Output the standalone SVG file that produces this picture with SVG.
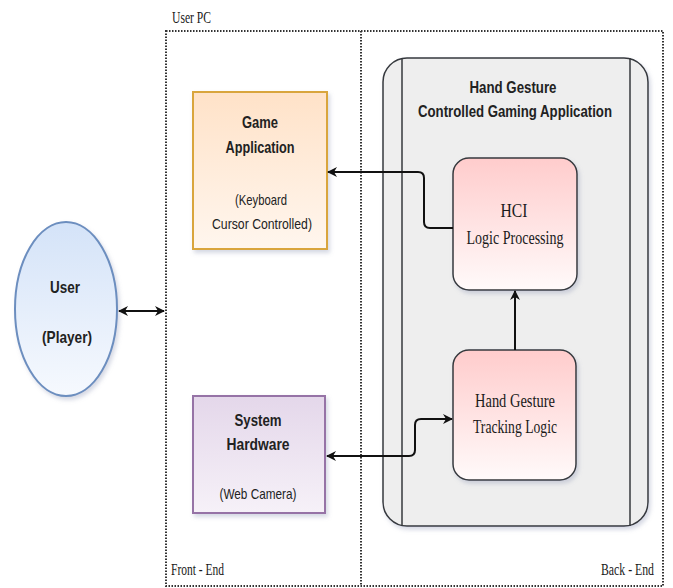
<svg xmlns="http://www.w3.org/2000/svg" width="673" height="588" viewBox="0 0 673 588">
<style>
.sans{font-family:"Liberation Sans",Arial,sans-serif;fill:#222;text-anchor:middle}
.b{font-weight:bold}
.serif{font-family:"Liberation Serif","Times New Roman",serif;fill:#1a1a1a;text-anchor:middle}
.conn{fill:none;stroke:#111;stroke-width:2}
.dot{fill:none;stroke:#333;stroke-width:2;stroke-dasharray:1.5 1.5}
</style>
<defs>
<linearGradient id="gOrange" x1="0" y1="0" x2="0" y2="1"><stop offset="0" stop-color="#FFE2C8"/><stop offset="1" stop-color="#FFF6EE"/></linearGradient>
<linearGradient id="gPurple" x1="0" y1="0" x2="0" y2="1"><stop offset="0" stop-color="#E4D7EA"/><stop offset="1" stop-color="#F6F1F8"/></linearGradient>
<linearGradient id="gBlue" x1="0" y1="0" x2="0" y2="1"><stop offset="0" stop-color="#D4E3F8"/><stop offset="1" stop-color="#F6F9FE"/></linearGradient>
<linearGradient id="gPink" x1="0" y1="0" x2="0" y2="1"><stop offset="0" stop-color="#FFCCCC"/><stop offset="1" stop-color="#FFFAFA"/></linearGradient>
<filter id="sh" x="-10%" y="-10%" width="130%" height="130%"><feDropShadow dx="2" dy="3" stdDeviation="2" flood-color="#8890b0" flood-opacity="0.35"/></filter>
<marker id="arr" viewBox="0 0 10 10" refX="9" refY="5" markerWidth="10" markerHeight="10" markerUnits="userSpaceOnUse" orient="auto-start-reverse"><path d="M0,0 L10,5 L0,10 L3,5 z" fill="#111"/></marker>
</defs>
<rect width="673" height="588" fill="#fff"/>

<g id="userpc">
<rect x="166" y="31" width="497" height="555" class="dot"/>
<line x1="361" y1="31" x2="361" y2="586" class="dot"/>
<text x="172" y="23" class="serif" style="text-anchor:start" font-size="16" textLength="39" lengthAdjust="spacingAndGlyphs">User PC</text>
<text x="171" y="575" class="serif" style="text-anchor:start" font-size="16" textLength="53" lengthAdjust="spacingAndGlyphs">Front - End</text>
<text x="601" y="575" class="serif" style="text-anchor:start" font-size="16" textLength="53" lengthAdjust="spacingAndGlyphs">Back - End</text>
</g>

<g id="app">
<rect x="383" y="58" width="265" height="468" rx="24" fill="#EEEEEE" stroke="#36393d" stroke-width="1.5" filter="url(#sh)"/>
<line x1="402" y1="58" x2="402" y2="526" stroke="#36393d" stroke-width="1.5"/>
<line x1="630" y1="58" x2="630" y2="526" stroke="#36393d" stroke-width="1.5"/>
<text x="513" y="93" class="sans b" font-size="17" textLength="87" lengthAdjust="spacingAndGlyphs">Hand Gesture</text>
<text x="515" y="117" class="sans b" font-size="17" textLength="194" lengthAdjust="spacingAndGlyphs">Controlled Gaming Application</text>
</g>

<g id="game">
<rect x="193" y="92" width="134" height="157" fill="url(#gOrange)" stroke="#D9A53C" stroke-width="2" filter="url(#sh)"/>
<text x="260" y="128" class="sans b" font-size="17" textLength="36" lengthAdjust="spacingAndGlyphs">Game</text>
<text x="260" y="153" class="sans b" font-size="17" textLength="69" lengthAdjust="spacingAndGlyphs">Application</text>
<text x="261" y="205" class="sans" font-size="15" fill="#333" textLength="52" lengthAdjust="spacingAndGlyphs">(Keyboard</text>
<text x="262" y="229" class="sans" font-size="15" fill="#333" textLength="100" lengthAdjust="spacingAndGlyphs">Cursor Controlled)</text>
</g>

<g id="user">
<ellipse cx="66" cy="309" rx="51" ry="87" fill="url(#gBlue)" stroke="#6C8EBF" stroke-width="2" filter="url(#sh)"/>
<text x="65" y="293" class="sans b" font-size="17" textLength="30" lengthAdjust="spacingAndGlyphs">User</text>
<text x="67" y="343" class="sans b" font-size="17" textLength="50" lengthAdjust="spacingAndGlyphs">(Player)</text>
</g>

<g id="hardware">
<rect x="193" y="396" width="132" height="117" fill="url(#gPurple)" stroke="#9673A6" stroke-width="2" filter="url(#sh)"/>
<text x="258" y="426" class="sans b" font-size="17" textLength="47" lengthAdjust="spacingAndGlyphs">System</text>
<text x="258" y="450" class="sans b" font-size="17" textLength="63" lengthAdjust="spacingAndGlyphs">Hardware</text>
<text x="258" y="499" class="sans" font-size="15" fill="#333" textLength="77" lengthAdjust="spacingAndGlyphs">(Web Camera)</text>
</g>

<g id="hci">
<rect x="453" y="158" width="124" height="132" rx="16" fill="url(#gPink)" stroke="#36393d" stroke-width="1.5" filter="url(#sh)"/>
<text x="514" y="217" class="serif" font-size="19" textLength="27" lengthAdjust="spacingAndGlyphs">HCI</text>
<text x="515" y="244" class="serif" font-size="19" textLength="97" lengthAdjust="spacingAndGlyphs">Logic Processing</text>
</g>

<g id="tracking">
<rect x="453" y="350" width="123" height="130" rx="16" fill="url(#gPink)" stroke="#36393d" stroke-width="1.5" filter="url(#sh)"/>
<text x="515" y="407" class="serif" font-size="19" textLength="80" lengthAdjust="spacingAndGlyphs">Hand Gesture</text>
<text x="515" y="433" class="serif" font-size="19" textLength="84" lengthAdjust="spacingAndGlyphs">Tracking Logic</text>
</g>

<g id="connectors">
<path class="conn" d="M119,311 H164" marker-start="url(#arr)" marker-end="url(#arr)"/>
<path class="conn" d="M453,228 H430 Q424,228 424,222 V178 Q424,172 418,172 H328" marker-end="url(#arr)"/>
<path class="conn" d="M327,456 H409 Q415,456 415,450 V425 Q415,419 421,419 H452" marker-start="url(#arr)" marker-end="url(#arr)"/>
<path class="conn" d="M515,350 V291" marker-end="url(#arr)"/>
</g>
</svg>
